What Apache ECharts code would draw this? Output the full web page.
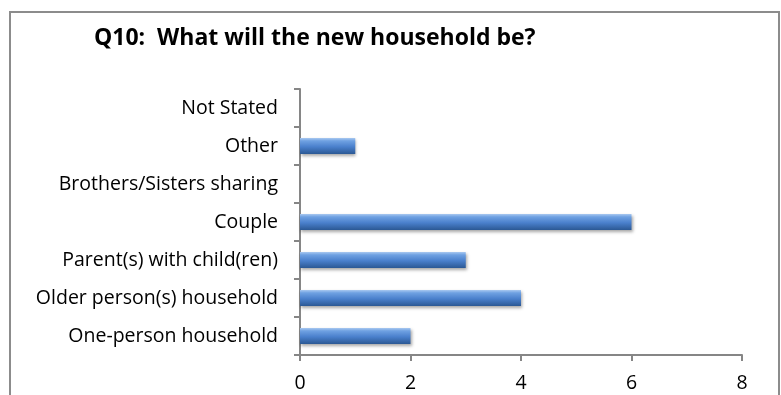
<!DOCTYPE html>
<html>
<head>
<meta charset="utf-8">
<script src="https://cdn.jsdelivr.net/npm/echarts@6/dist/echarts.min.js"></script>
<style>
  html, body { margin: 0; padding: 0; background: #fff; }
  #frame { position: absolute; left: 9px; top: 11px; width: 771px; height: 400px;
           border: 2px solid #8c8c8c; border-bottom: none; box-sizing: border-box; }
  #chart { position: absolute; left: 0; top: 0; width: 781px; height: 395px; }
</style>
</head>
<body>
<div id="frame"></div>
<div id="chart"></div>
<script>
// Household types, listed bottom to top as the axis draws them
const categories = [
  'One-person household',
  'Older person(s) household',
  'Parent(s) with child(ren)',
  'Couple',
  'Brothers/Sisters sharing',
  'Other',
  'Not Stated'
];
const counts = [2, 4, 3, 6, 0, 1, 0];
const xTicks = [0, 2, 4, 6, 8];

const chart = echarts.init(document.getElementById('chart'), null, { renderer: 'canvas' });

// Bevelled blue bar fill: light edge on top, darker towards the bottom
const barFill = new echarts.graphic.LinearGradient(0, 0, 0, 1, [
  { offset: 0, color: '#a9c8f0' },
  { offset: 0.18, color: '#6fa1e2' },
  { offset: 0.55, color: '#4a80cc' },
  { offset: 1, color: '#2b5894' }
]);

chart.setOption({
  animation: false,
  title: {
    text: 'Q10:  What will the new household be?',
    left: 94,
    top: 27,
    padding: 0,
    textStyle: { fontFamily: 'Open Sans', fontWeight: 'bold', fontSize: 23, color: '#000' }
  },
  grid: { left: 300, right: 39, top: 89, bottom: 40, containLabel: false },
  xAxis: {
    type: 'value',
    min: xTicks[0],
    max: xTicks[xTicks.length - 1],
    interval: 2,
    splitLine: { show: false },
    axisLine: { show: true, lineStyle: { color: '#868686', width: 2 } },
    axisTick: { show: true, length: 6, lineStyle: { color: '#868686', width: 2 } },
    axisLabel: { margin: 18, fontFamily: 'Open Sans', fontSize: 19.5, color: '#000' }
  },
  yAxis: {
    type: 'category',
    data: categories,
    axisLine: { show: true, lineStyle: { color: '#868686', width: 2 } },
    axisTick: { show: true, length: 6, lineStyle: { color: '#868686', width: 2 } },
    axisLabel: { margin: 22, fontFamily: 'Open Sans', fontSize: 19.5, color: '#000' }
  },
  series: [{
    type: 'bar',
    data: counts,
    barWidth: 16,
    itemStyle: {
      color: barFill,
      shadowColor: 'rgba(0,0,0,0.35)',
      shadowBlur: 3,
      shadowOffsetY: 2,
      shadowOffsetX: 1
    }
  }]
});
</script>
</body>
</html>
